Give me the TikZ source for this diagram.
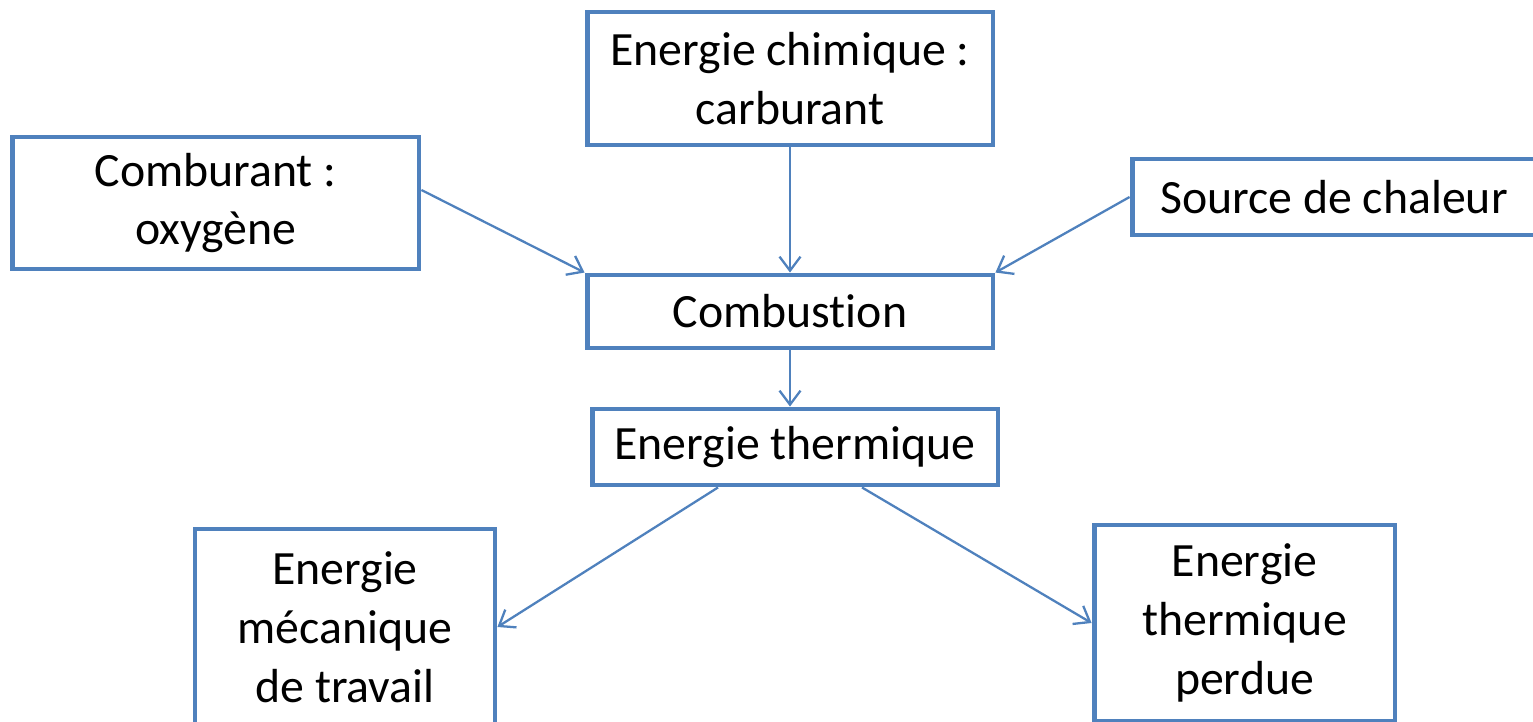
\documentclass[tikz,border=0pt]{standalone}
\usepackage{fontspec}
\setmainfont[Ligatures=NoCommon]{Carlito}
\usetikzlibrary{arrows.meta}
\definecolor{bleu}{HTML}{4F81BD}

\begin{document}
\begin{tikzpicture}[x=0.02cm, y=-0.02cm,
  bloc/.style={draw=bleu, line width=2.8pt, fill=white, align=center, inner sep=0pt,
    font=\fontsize{27.2}{33.5}\selectfont},
  fleche/.style={draw=bleu, line width=1.3pt, -{Straight Barb[length=0.28cm, width=0.42cm]}}]
\clip (0,0) rectangle (1533,722);
\node[bloc, minimum width=8.12cm, minimum height=2.66cm] (chim) at (790,78.5) {Energie chimique :\\carburant};
\node[bloc, minimum width=8.14cm, minimum height=2.64cm] (comb) at (215.5,203) {Comburant :\\oxygène};
\node[bloc, minimum width=8.08cm, minimum height=1.52cm] (source) at (1334,197) {Source de chaleur};
\node[bloc, minimum width=8.12cm, minimum height=1.46cm] (combu) at (790,311.5) {Combust\kern0pt ion};
\node[bloc, minimum width=8.12cm, minimum height=1.52cm] (therm) at (795,447) {Energie thermique};
\node[bloc, minimum width=6.00cm, minimum height=3.92cm] (meca) at (345,627) {Energie\\mécanique\\de travail};
\node[bloc, minimum width=6.02cm, minimum height=3.92cm] (perdue) at (1244.5,623) {Energie\\thermique\\perdue};
\draw[fleche] (chim) -- (combu);
\draw[fleche] ([yshift=0.26cm]comb.east) -- (combu.north west);
\draw[fleche] (source.west) -- (combu.north east);
\draw[fleche] (combu.south) -- (combu.south |- therm.north);
\draw[fleche] ([xshift=-1.54cm]therm.south) -- (meca.east);
\draw[fleche] ([xshift=1.34cm]therm.south) -- (perdue.west);
\end{tikzpicture}
\end{document}
